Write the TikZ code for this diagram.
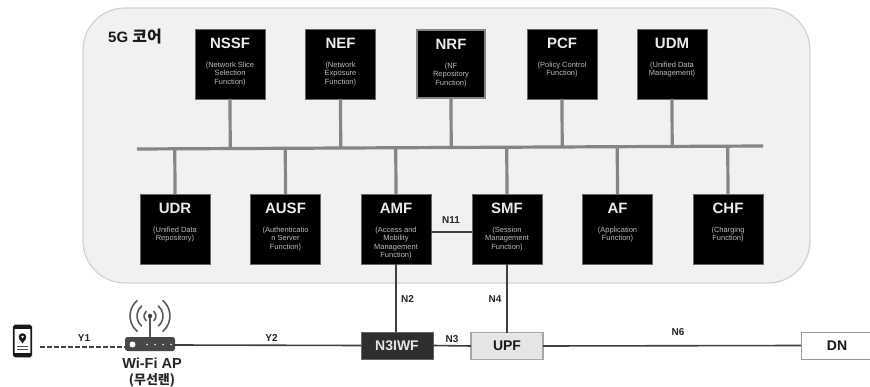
\documentclass[tikz,border=0pt]{standalone}
\usepackage{fontspec}
\setmainfont{Liberation Sans}
\newfontfamily\krfont{Noto Sans CJK KR}
\usetikzlibrary{calc}
\definecolor{corefill}{HTML}{F1F1F1}
\definecolor{coreedge}{HTML}{D2D2D2}
\definecolor{busgray}{HTML}{858585}
\definecolor{linkdark}{HTML}{404040}
\definecolor{subgray}{HTML}{BDBDBD}
\tikzset{
  fnbox/.style={fill=black,draw=black!60,line width=.5pt,minimum width=70,minimum height=70,inner sep=0,outer sep=0},
  fntitle/.style={text=white!92!black,font=\fontsize{15}{16}\selectfont\bfseries,inner sep=0},
  fnsub/.style={text=subgray,font=\fontsize{7.5}{8.6}\selectfont,align=center,inner sep=0,anchor=north},
  buslink/.style={draw=busgray,line width=3.2pt},
  link/.style={draw=linkdark,line width=1.6pt},
  lab/.style={font=\fontsize{10}{11}\selectfont\bfseries,text=black!85,inner sep=0},
  netbox/.style={minimum height=27,inner sep=0,outer sep=0,font=\fontsize{14}{15}\selectfont\bfseries}
}
\newcommand{\fnnode}[6][]{%
  \node[fnbox,#1] (#2) at (#3,#4) {};
  \node[fntitle] (#2t) at ($(#2.north)+(0,14)$) {#5};
  \node[fnsub] (#2s) at ($(#2.north)+(0,32.5)$) {#6};
}
\begin{document}
\begin{tikzpicture}[x=1pt,y=-1pt]
\useasboundingbox (0,0) rectangle (870,387);
\fill[white] (0,0) rectangle (870,387);
\node[draw=coreedge,fill=corefill,line width=1.2pt,rounded corners=42,minimum width=727,minimum height=275,inner sep=0] (core) at (446.5,145.5) {};
\node[font=\fontsize{15}{16}\selectfont\bfseries,text=black!90,inner sep=0,anchor=west] (corelab) at (108,37) {5G {\krfont\fontsize{16}{16}\selectfont 코어}};

\coordinate (busL) at (137,149);
\coordinate (busR) at (763,146);

\fnnode{nssf}{230}{64}{NSSF}{(Network Slice\\Selection\\Function)}
\fnnode{nef}{340.5}{64}{NEF}{(Network\\Exposure\\Function)}
\fnnode[draw=busgray,line width=2pt,minimum width=68,minimum height=68]{nrf}{451}{64}{NRF}{(NF\\Repository\\Function)}
\fnnode{pcf}{562}{64}{PCF}{(Policy Control\\Function)}
\fnnode{udm}{672}{64}{UDM}{(Unified Data\\Management)}
\fnnode{udr}{175}{229}{UDR}{(Unified Data\\Repository)}
\fnnode{ausf}{285.5}{229}{AUSF}{(Authenticatio\\n Server\\Function)}
\fnnode{amf}{396}{229}{AMF}{(Access and\\Mobility\\Management\\Function)}
\fnnode{smf}{507}{229}{SMF}{(Session\\Management\\Function)}
\fnnode{af}{617.5}{229}{AF}{(Application\\Function)}
\fnnode{chf}{728}{229}{CHF}{(Charging\\Function)}

\draw[buslink] (busL) -- (busR);
\foreach \n in {nssf,nef,nrf,pcf,udm}
  \draw[buslink] (\n.south) -- ($(busL)!(\n.south)!(busR)$);
\foreach \n in {udr,ausf,amf,smf,af,chf}
  \draw[buslink] (\n.north) -- ($(busL)!(\n.north)!(busR)$);

% network row
\node[netbox,fill=black!82,draw=black!60,line width=.6pt,minimum width=72,text=white!90!black] (n3iwf) at (397,345.5) {N3IWF};
\node[netbox,fill=black!10,draw=black!35,line width=1.2pt,minimum width=72,text=black!90] (upf) at (507,346) {UPF};
\node[netbox,fill=white,draw=black!40,line width=1pt,minimum width=72,text=black!90] (dn) at (837,345.5) {DN};

% Wi-Fi AP
\node[fill=black!72,rounded corners=2.5,minimum width=50,minimum height=14,inner sep=0,outer sep=0] (ap) at (150,344) {};
\coordinate (ant) at (150,316);
\draw[black!65,line width=2.2pt] (ap.north) -- (ant);
\fill[black!75] (ant) circle (2.2);
\foreach \r in {6,13,20}{
  \draw[black!65,line width=1.6pt,line cap=round] ($(ant)+(50:\r)$) arc[start angle=50,end angle=-50,radius=\r];
  \draw[black!65,line width=1.6pt,line cap=round] ($(ant)+(130:\r)$) arc[start angle=130,end angle=230,radius=\r];
}
\fill[white] (132.5,344.5) circle (3);
\foreach \x in {147,155,163,171} \fill[white!85!black] (\x,344.5) circle (1);
\node[font=\fontsize{14.5}{15}\selectfont\bfseries,text=black!85,inner sep=0] (aplab) at (152,363) {Wi-Fi AP};
\node[font=\fontsize{13}{14}\selectfont\krfont\bfseries,text=black!85,inner sep=0] (aplabk) at (152,380) {(무선랜)};

% phone
\node[draw=black!90,fill=white,line width=1.6pt,rounded corners=1.5,minimum width=17.5,minimum height=31,inner sep=0,outer sep=0] (phone) at (22.5,341) {};
\fill[black!90] (14,326) rectangle (31,329);
\fill[black!90] (14,353) rectangle (31,356.5);
\fill[black!90] (22.5,337) circle (3.8);
\fill[black!90] (19,338.5) -- (22.5,343.5) -- (26,338.5) -- cycle;
\fill[white] (22.5,336.8) circle (1.3);
\draw[black!70,line width=.8pt] (17,346.5) -- (28,346.5) (17,349.5) -- (28,349.5);

% connectors
\coordinate (dashstart) at (40,347);
\draw[link,dash pattern=on 5pt off 2pt] (dashstart) -- (ap.west |- dashstart);
\draw[link] ($(ap.east)+(0,1)$) -- (n3iwf.west);
\draw[link] (n3iwf.east) -- (upf.west);
\draw[link] (upf.east) -- (dn.west);
\draw[link] (amf.east |- 0,232) -- (smf.west |- 0,232);
\draw[link] (amf.south) -- (n3iwf.north -| amf.south);
\draw[link] (smf.south) -- (upf.north -| smf.south);

% labels
\node[lab] (ly1) at (84,338) {Y1};
\node[lab] (ly2) at (271.5,338) {Y2};
\node[lab] (ln11) at (451,220) {N11};
\node[lab] (ln2) at (407.5,299) {N2};
\node[lab] (ln4) at (495,299) {N4};
\node[lab] (ln3) at (452,339) {N3};
\node[lab] (ln6) at (678,332) {N6};
\end{tikzpicture}
\end{document}
